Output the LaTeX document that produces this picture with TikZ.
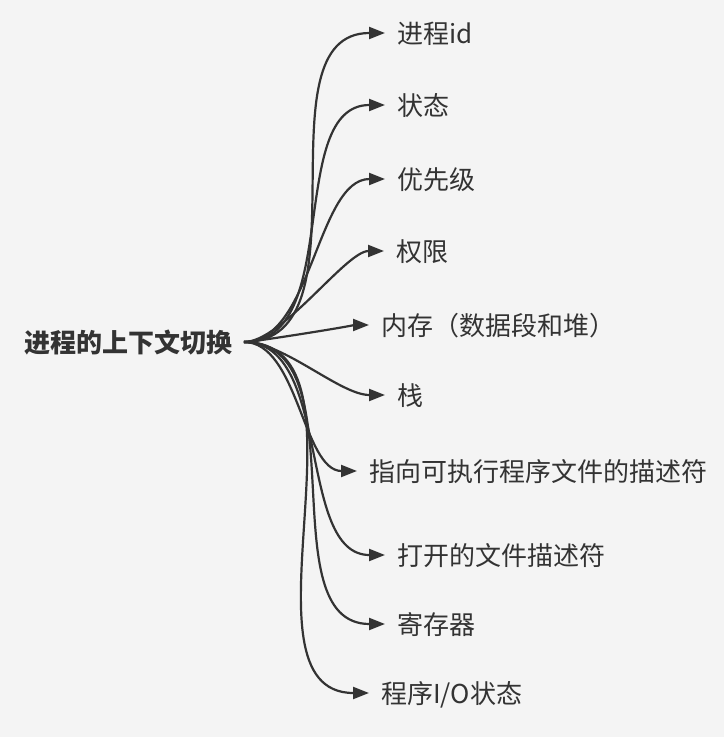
\documentclass[tikz,border=0pt]{standalone}
\usepackage{fontspec}
\setmainfont{Noto Sans CJK SC}
\usetikzlibrary{arrows.meta}
\definecolor{bgcol}{HTML}{F4F4F4}
\definecolor{ink}{HTML}{333333}
\tikzset{
  topic/.style={anchor=east, inner xsep=11pt, inner ysep=0pt, text height=22pt, text depth=2pt,
    font=\fontsize{26}{30}\selectfont\bfseries, text=ink},
  leaf/.style={anchor=west, inner xsep=12pt, inner ysep=0pt, text height=22pt, text depth=2pt,
    font=\fontsize{26}{30}\selectfont, text=ink},
  link/.style={draw=ink, line width=2.2pt, -{Triangle[length=16pt,width=12pt]}},
}
\begin{document}
\begin{tikzpicture}[x=1pt, y=-1pt]
    \useasboundingbox[fill=bgcol] (0,0) rectangle (724,737);

    \node[topic] (a) at (244,342) {进程的上下文切换};

    \node[leaf] (b1) at (385,33) {进程id};
    \node[leaf] (b2) at (385,105) {状态};
    \node[leaf] (b3) at (385,179) {优先级};
    \node[leaf] (b4) at (384,251) {权限};
    \node[leaf] (b5) at (369,325) {内存（数据段和堆）};
    \node[leaf] (b6) at (385,395) {栈};
    \node[leaf] (b7) at (357,471) {指向可执行程序文件的描述符};
    \node[leaf] (b8) at (385,555) {打开的文件描述符};
    \node[leaf] (b9) at (385,624) {寄存器};
    \node[leaf] (b10) at (369,693) {程序I/O状态};

    % control length grows with the vertical drop
    \draw[link] (a.east) .. controls +(130,0) and +(-130,0) .. (b1.west);
    \draw[link] (a.east) .. controls +(100,0) and +(-100,0) .. (b2.west);
    \draw[link] (a.east) .. controls +(68,0) and +(-68,0) .. (b3.west);
    \draw[link] (a.east) .. controls +(38,0) and +(-38,0) .. (b4.west);
    \draw[link] (a.east) .. controls +(10,0) and +(-10,0) .. (b5.west);
    \draw[link] (a.east) .. controls +(40,0) and +(-45,0) .. (b6.west);
    \draw[link] (a.east) .. controls +(54,0) and +(-54,0) .. (b7.west);
    \draw[link] (a.east) .. controls +(89,0) and +(-89,0) .. (b8.west);
    \draw[link] (a.east) .. controls +(118,0) and +(-118,0) .. (b9.west);
    \draw[link] (a.east) .. controls +(140,0) and +(-140,0) .. (b10.west);
\end{tikzpicture}
\end{document}
